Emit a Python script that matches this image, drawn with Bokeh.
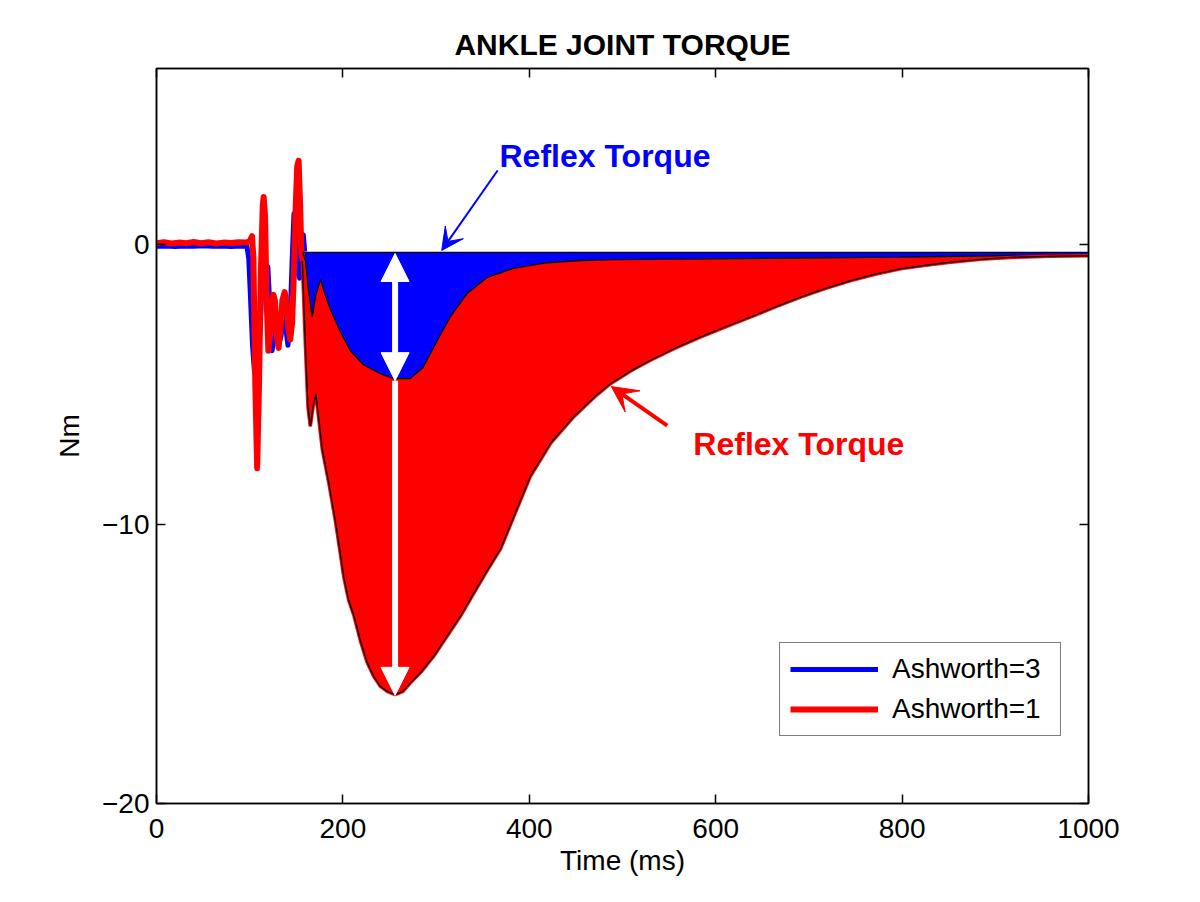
import numpy as np
from bokeh.plotting import figure
from bokeh.models import (Range1d, LinearAxis, FixedTicker, Arrow, NormalHead,
                          VeeHead, Label, Legend, LegendItem)
from bokeh.embed import file_html
from bokeh.resources import INLINE

FONT = "Liberation Sans"

# ---------------- data ----------------
# total torque traces, 0-160 ms
t_red_line = [0, 8, 16, 24, 32, 40, 48, 56, 64, 72, 80, 88, 96, 100, 102.5, 104,
              106, 108, 110, 112, 114, 115, 116.5, 118, 120, 122, 124, 125.5, 127,
              129, 131, 133, 135, 137.5, 139.5, 141.5, 143.5, 145.5, 147.5, 149.5,
              151, 152.5, 154, 155.5, 157]
y_red_line = [0.05, 0.08, 0.04, 0.07, 0.05, 0.09, 0.05, 0.08, 0.04, 0.07, 0.06, 0.08,
              0.07, 0.12, 0.3, -0.5, -5.0, -8.0, -5.0, -1.0, 1.4, 1.7, 1.0, -1.8,
              -3.8, -3.2, -2.0, -1.8, -2.0, -3.2, -3.7, -3.0, -2.0, -1.7, -2.0, -3.0,
              -3.4, -2.8, -1.0, 1.5, 2.8, 3.0, 1.5, -0.3, -0.6]

t_blue_line = [0, 10, 20, 30, 40, 50, 60, 70, 80, 90, 97, 99, 101, 103, 105, 107,
               109, 111, 113, 115, 117, 119.5, 122, 124, 126, 128.5, 131, 133.5,
               136, 138.5, 141, 143.5, 145.5, 147.5, 149.5, 151.5, 153.5, 155.5,
               157.5, 159]
y_blue_line = [-0.06, -0.05, -0.07, -0.05, -0.06, -0.04, -0.06, -0.05, -0.07, -0.05,
               -0.06, -0.5, -2.0, -3.6, -4.5, -4.8, -4.2, -3.0, -1.6, -0.9, -0.7,
               -0.8, -2.5, -3.8, -3.2, -2.6, -3.6, -3.3, -2.6, -2.9, -3.6, -2.6,
               -0.6, 1.1, 0.3, -1.0, -1.2, -0.3, 0.35, -0.25]

# baseline of the reflex areas
t_top = [157, 1000]
y_top = [-0.28, -0.28]

# reflex torque, Ashworth=3 (lower edge of blue area)
t_blue_reflex = [157, 160, 163, 167, 171, 176, 181, 187, 197, 208, 222, 240, 254,
                 272, 286, 301, 315, 333, 355, 383, 419, 455, 490, 562, 691, 798,
                 905, 1000]
y_blue_reflex = [-0.3, -0.6, -1.6, -2.6, -1.8, -1.25, -1.8, -2.35, -3.1, -3.8, -4.3,
                 -4.62, -4.8, -4.8, -4.4, -3.45, -2.6, -1.76, -1.17, -0.85, -0.65,
                 -0.57, -0.54, -0.52, -0.48, -0.45, -0.4, -0.36]

# reflex torque, Ashworth=1 (lower edge of red area)
t_red_reflex = [156.5, 158, 160, 162.5, 165, 168, 171, 174, 178, 185, 192, 197, 201,
                206, 212, 219, 226, 233, 240, 248, 256, 264, 272, 285, 297, 311, 326,
                340, 355, 369, 385, 401, 423, 448, 470, 487, 510, 530, 557, 584, 610,
                637, 664, 691, 718, 745, 771, 798, 825, 852, 884, 916, 958, 1000]
y_red_reflex = [-0.6, -2.0, -3.8, -5.8, -6.5, -5.8, -5.35, -6.2, -7.35, -8.55, -9.9,
                -11.0, -11.9, -12.7, -13.3, -14.2, -14.95, -15.45, -15.8, -16.0,
                -16.1, -16.0, -15.7, -15.25, -14.75, -14.05, -13.3, -12.5, -11.65,
                -10.9, -9.6, -8.3, -7.1, -6.15, -5.45, -4.98, -4.5, -4.14, -3.7,
                -3.3, -2.95, -2.6, -2.23, -1.88, -1.57, -1.29, -1.06, -0.87, -0.74,
                -0.63, -0.53, -0.46, -0.42, -0.4]

x_ticks = [0, 200, 400, 600, 800, 1000]
y_ticks = [-20, -10, 0]
y_tick_labels = ["\u221220", "\u221210", "0"]
legend_labels = ["Ashworth=3", "Ashworth=1"]
title_text = "ANKLE JOINT TORQUE"
annot_text = "Reflex Torque"

BLUE = "#0000ff"
RED = "#ff0000"

# ---------------- figure ----------------
p = figure(width=1184, height=886, output_backend="svg", toolbar_location=None,
           x_range=Range1d(0, 1000), y_range=Range1d(-20, 6.3),
           min_border_left=156, min_border_right=96, min_border_top=68,
           min_border_bottom=83)
p.background_fill_color = "white"
p.border_fill_color = "white"
p.outline_line_color = "black"
p.outline_line_width = 1.5
p.xgrid.visible = False
p.ygrid.visible = False

p.title.text = title_text
p.title.align = "center"
p.title.text_font = FONT
p.title.text_font_size = "30px"
p.title.text_font_style = "bold"
p.title.text_color = "black"
p.title.standoff = 16


def style_axis(ax, ticks, labels=True):
    ax.ticker = FixedTicker(ticks=ticks)
    ax.major_tick_in = 9
    ax.major_tick_out = 0
    ax.minor_tick_in = 0
    ax.minor_tick_out = 0
    ax.axis_line_color = "black"
    ax.axis_line_width = 1.5
    ax.major_tick_line_color = "black"
    ax.major_tick_line_width = 1.5
    ax.major_label_text_font = FONT
    ax.major_label_text_font_size = "28px" if labels else "1px"
    ax.major_label_text_color = "black" if labels else None
    if not labels:
        ax.major_label_standoff = 0
    ax.axis_label_text_font = FONT
    ax.axis_label_text_font_size = "28px"
    ax.axis_label_text_font_style = "normal"
    ax.axis_label_text_color = "black"


style_axis(p.xaxis[0], x_ticks)
style_axis(p.yaxis[0], y_ticks)
p.xaxis[0].axis_label = "Time (ms)"
p.yaxis[0].axis_label = "Nm"
p.xaxis[0].major_label_standoff = 15
p.yaxis[0].major_label_standoff = 7
p.xaxis[0].axis_label_standoff = 4
p.yaxis[0].axis_label_standoff = 14
p.yaxis[0].major_label_overrides = {t: s for t, s in zip(y_ticks, y_tick_labels)}

top_ax = LinearAxis()
style_axis(top_ax, x_ticks, labels=False)
p.add_layout(top_ax, "above")
right_ax = LinearAxis()
style_axis(right_ax, y_ticks, labels=False)
p.add_layout(right_ax, "right")

# ---------------- areas ----------------
blue_x = list(t_top) + t_blue_reflex[::-1]
blue_y = list(y_top) + y_blue_reflex[::-1]
p.patch(blue_x, blue_y, fill_color=BLUE, line_color=None)

red_x = t_red_reflex + t_blue_reflex[::-1]
red_y = y_red_reflex + y_blue_reflex[::-1]
p.patch(red_x, red_y, fill_color=RED, line_color=None)

# ---------------- lines ----------------
blue_r = p.line(t_blue_line, y_blue_line, line_color=BLUE, line_width=5,
                line_join="round")
red_r = p.line(t_red_line, y_red_line, line_color=RED, line_width=6,
               line_join="round")

p.line(t_top, y_top, line_color="black", line_width=1.3)
p.line(t_blue_reflex, y_blue_reflex, line_color="black", line_width=1.3)
p.line(t_red_reflex, y_red_reflex, line_color=RED, line_width=3.5)
p.line(t_red_reflex, y_red_reflex, line_color="black", line_width=1.3)

# ---------------- white double arrows ----------------
p.add_layout(Arrow(start=NormalHead(size=28, fill_color="white", line_color="white"),
                   end=NormalHead(size=28, fill_color="white", line_color="white"),
                   x_start=256, y_start=-4.87, x_end=256, y_end=-0.32,
                   line_color="white", line_width=6))
p.add_layout(Arrow(end=NormalHead(size=28, fill_color="white", line_color="white"),
                   x_start=256, y_start=-4.87, x_end=256, y_end=-16.13,
                   line_color="white", line_width=6))

# ---------------- annotation arrows & texts ----------------
p.add_layout(Arrow(end=VeeHead(size=22, fill_color=BLUE, line_color=BLUE),
                   x_start=366, y_start=2.65, x_end=306, y_end=-0.21,
                   line_color=BLUE, line_width=2))
p.add_layout(Arrow(end=VeeHead(size=26, fill_color=RED, line_color=RED),
                   x_start=548, y_start=-6.48, x_end=488, y_end=-5.08,
                   line_color=RED, line_width=4))

p.add_layout(Label(x=368, y=3.18, text=annot_text, text_color=BLUE,
                   text_font=FONT, text_font_size="32px", text_font_style="bold",
                   text_baseline="middle", text_align="left"))
p.add_layout(Label(x=576, y=-7.12, text=annot_text, text_color=RED,
                   text_font=FONT, text_font_size="32px", text_font_style="bold",
                   text_baseline="middle", text_align="left"))

# ---------------- legend ----------------
legend = Legend(items=[LegendItem(label=legend_labels[0], renderers=[blue_r]),
                       LegendItem(label=legend_labels[1], renderers=[red_r])],
                location=(623, 67), margin=0, padding=10, spacing=8,
                glyph_width=88, glyph_height=28, label_height=28,
                label_width=158, label_standoff=14, label_text_font=FONT,
                label_text_font_size="28px", label_text_color="black",
                border_line_color="black",
                border_line_width=1.5, background_fill_color="white",
                background_fill_alpha=1.0)
p.add_layout(legend, "center")

open("out.html", "w").write(file_html(p, INLINE))
